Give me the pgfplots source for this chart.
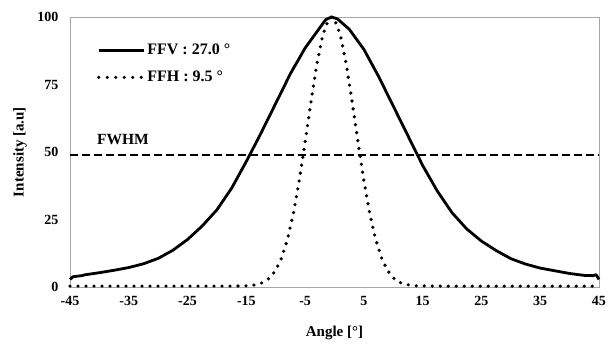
\documentclass[border=0pt]{standalone}
\usepackage{fontspec}
\setmainfont{Liberation Serif}
\usepackage{pgfplots}
\pgfplotsset{compat=1.18}
\begin{document}
\begin{tikzpicture}
\begin{axis}[
  scale only axis, width=529pt, height=270pt,
  xmin=-45, xmax=45, ymin=0, ymax=100,
  xtick={-45,-35,...,45}, ytick={0,25,50,75,100},
  major tick length=0pt,
  axis line style={gray!70, line width=0.8pt},
  font=\fontsize{14}{16}\selectfont\bfseries,
  /pgf/number format/assume math mode=true,
  xticklabel style={yshift=-6pt},
  yticklabel style={xshift=-8pt},
  xlabel={Angle [°]}, ylabel={Intensity [a.u]},
  xlabel style={at={(axis description cs:0.5,-0.17)}, anchor=center, font=\fontsize{15}{17}\selectfont\bfseries},
  ylabel style={at={(axis description cs:-0.0945,0.5)}, anchor=center, font=\fontsize{15}{17}\selectfont\bfseries},
  legend style={at={(0.045,0.915)}, anchor=north west, draw=none, fill=none, row sep=11pt, font=\fontsize{16}{18}\selectfont\bfseries},
  legend cell align=left,
  clip=false,
]
\addplot[black, line width=2.8pt, line join=round,
  legend image code/.code={\draw[black, line width=2.8pt] (0pt,0pt) -- (45pt,0pt);}]
 coordinates {
(-45,2.8)(-44.5,3.8)(-43,4.2)(-42.5,4.5)(-40,5.3)(-37.5,6.2)(-35,7.2)(-32.5,8.6)(-30,10.6)(-27.5,13.6)
(-25,17.6)(-22.5,22.6)(-20,28.6)(-17.5,36.6)(-15,46.5)(-12.5,57)(-10,68)(-7.5,79)(-5,88.5)
(-2.5,96)(-1.5,99)(-0.5,100)(0.5,99.3)(2.5,95.5)(5,88)(7.5,78)(10,67)(12.5,56)(15,45)
(17.5,35.5)(20,27.5)(22.5,21.5)(25,17)(27.5,13.5)(30,10.5)(32.5,8.5)(35,7)(37.5,6)
(40,5)(42.5,4.3)(44,4.2)(44.5,4.6)(45,2.8)};
\addlegendentry{FFV : 27.0 °}
\addplot[black, line width=3.6pt, line cap=round, dash pattern=on 0pt off 8pt,
  legend image code/.code={\draw[black, line width=3.4pt, line cap=round, dash pattern=on 0pt off 8.5pt] (0pt,0pt) -- (45pt,0pt);}]
 coordinates {
(-45,0.3)(-20,0.3)(-15,0.4)(-14,0.6)(-13,1.0)(-12,1.8)(-11,3.4)(-10,6.2)(-9,10.8)(-8,17.7)(-7,27.2)
(-6,39.4)(-5,53.6)(-4,68.6)(-3,82.5)(-2,93.3)(-1,99.2)(-0.5,100)(0,99.2)(1,93.3)(2,82.5)
(3,68.6)(4,53.6)(5,39.4)(6,27.2)(7,17.7)(8,10.8)(9,6.2)(10,3.4)(11,1.8)(12,1.0)(13,0.6)
(14,0.4)(20,0.3)(45,0.3)};
\addlegendentry{FFH : 9.5 °}
\addplot[black, line width=2pt, dash pattern=on 8pt off 4pt, forget plot]
 coordinates {(-45,49)(45,49)};
\node[anchor=center, font=\fontsize{15.5}{17}\selectfont\bfseries] at (axis cs:-36,54.5) {FWHM};
\end{axis}
\pgfresetboundingbox
\path (current axis.south west) ++(-70pt,-61pt) rectangle ++(611pt,348pt);
\end{tikzpicture}
\end{document}
